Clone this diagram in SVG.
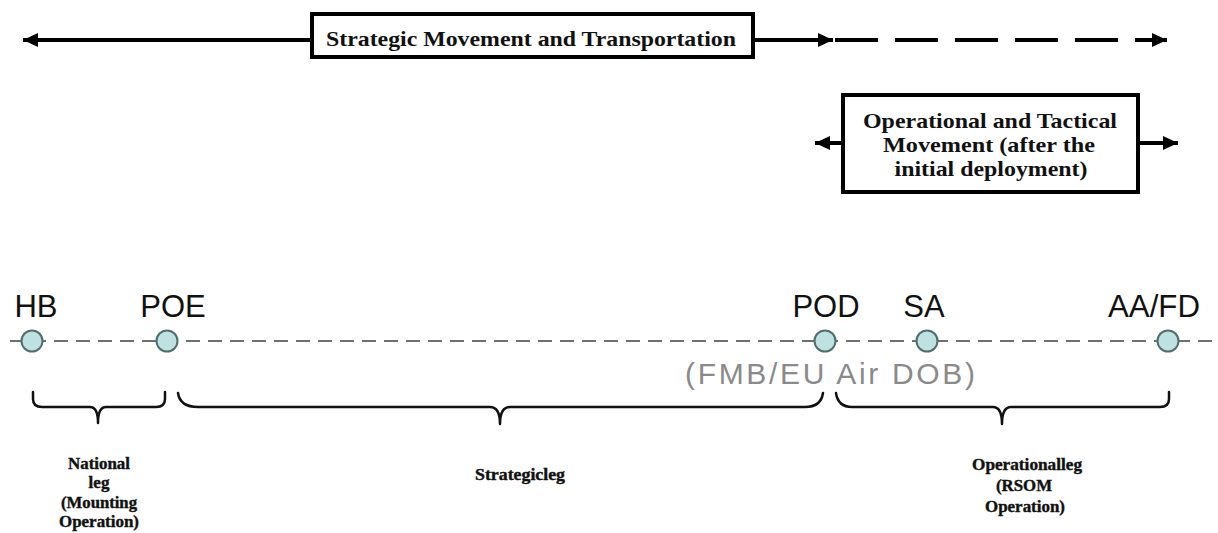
<svg xmlns="http://www.w3.org/2000/svg" width="1218" height="533" viewBox="0 0 1218 533">
  <style>
    .box { fill: #ffffff; stroke: #000; stroke-width: 4; }
    .arrow { fill: none; stroke: #000; stroke-width: 4; }
    .title { font-family: "Liberation Serif", "Times New Roman", serif; font-weight: bold; fill: #111; text-anchor: middle; }
    .axis { fill: none; stroke: #707070; stroke-width: 2.2; stroke-dasharray: 14 8; }
    .pt { fill: #bfe1e1; stroke: #4f6e6e; stroke-width: 2; }
    .lbl { font-family: "Liberation Sans", Arial, sans-serif; font-size: 31px; fill: #111; text-anchor: middle; }
    .grey { font-family: "Liberation Sans", Arial, sans-serif; font-size: 30px; fill: #8a8a8a; text-anchor: middle; }
    .brace { fill: none; stroke: #111; stroke-width: 2.5; stroke-linecap: round; stroke-linejoin: round; }
    .leg { font-family: "Liberation Serif", "Times New Roman", serif; font-weight: bold; font-size: 17px; fill: #111; stroke: #111; stroke-width: 0.4; text-anchor: middle; }
  </style>
  <defs>
    <marker id="ah" markerUnits="userSpaceOnUse" markerWidth="16" markerHeight="14" refX="15" refY="7" orient="auto-start-reverse">
      <path d="M0,0 L15,7 L0,14 z" fill="#000"/>
    </marker>
  </defs>

  <g id="connectors">
    <line class="arrow" x1="312" y1="40" x2="23" y2="40" marker-end="url(#ah)"/>
    <line class="arrow" x1="753" y1="40" x2="833" y2="40" marker-end="url(#ah)"/>
    <line class="arrow" x1="835" y1="40" x2="1167" y2="40" stroke-dasharray="43 17" marker-end="url(#ah)"/>
    <line class="arrow" x1="843" y1="143" x2="815" y2="143" marker-end="url(#ah)"/>
    <line class="arrow" x1="1138" y1="143" x2="1178" y2="143" marker-end="url(#ah)"/>
  </g>

  <g id="strategic-box">
    <rect class="box" x="312" y="14" width="441" height="43"/>
    <text class="title" x="531" y="46" font-size="22" textLength="410" lengthAdjust="spacingAndGlyphs">Strategic Movement and Transportation</text>
  </g>

  <g id="operational-box">
    <rect class="box" x="843" y="95" width="295" height="97"/>
    <text class="title" x="990" y="128" font-size="21" textLength="254" lengthAdjust="spacingAndGlyphs">Operational and Tactical</text>
    <text class="title" x="989" y="152" font-size="21" textLength="212" lengthAdjust="spacingAndGlyphs">Movement (after the</text>
    <text class="title" x="991" y="176" font-size="21" textLength="193" lengthAdjust="spacingAndGlyphs">initial deployment)</text>
  </g>

  <g id="timeline">
    <line class="axis" x1="10" y1="341" x2="1218" y2="341"/>
  </g>

  <g id="node-HB">
    <circle class="pt" cx="32" cy="341" r="10.5"/>
    <text class="lbl" x="36" y="317">HB</text>
  </g>
  <g id="node-POE">
    <circle class="pt" cx="167" cy="341" r="10.5"/>
    <text class="lbl" x="173" y="317">POE</text>
  </g>
  <g id="node-POD">
    <circle class="pt" cx="825" cy="341" r="10.5"/>
    <text class="lbl" x="826" y="317">POD</text>
    <text class="grey" x="830" y="384" textLength="290" lengthAdjust="spacing">(FMB/EU Air DOB)</text>
  </g>
  <g id="node-SA">
    <circle class="pt" cx="927" cy="341" r="10.5"/>
    <text class="lbl" x="924" y="317">SA</text>
  </g>
  <g id="node-AAFD">
    <circle class="pt" cx="1168" cy="341" r="10.5"/>
    <text class="lbl" x="1154" y="317" textLength="92" lengthAdjust="spacingAndGlyphs">AA/FD</text>
  </g>

  <g id="national-leg">
    <path class="brace" d="M33,392 L33,399 Q33,407 42,407 L90,407 Q98,407 98,423 Q98,407 106,407 L156,407 Q165,407 165,399 L165,392"/>
    <text class="leg" x="99" y="469" textLength="62" lengthAdjust="spacingAndGlyphs">National</text>
    <text class="leg" x="99" y="488">leg</text>
    <text class="leg" x="99" y="508" textLength="76" lengthAdjust="spacingAndGlyphs">(Mounting</text>
    <text class="leg" x="99" y="527" textLength="80" lengthAdjust="spacingAndGlyphs">Operation)</text>
  </g>

  <g id="strategic-leg">
    <path class="brace" d="M178,393 Q180,407 198,407 L490,407 Q500,407 500,424 Q500,407 510,407 L805,407 Q821,407 823,393"/>
    <text class="leg" x="520" y="480" textLength="90" lengthAdjust="spacingAndGlyphs">Strategicleg</text>
  </g>

  <g id="operational-leg">
    <path class="brace" d="M836,393 Q838,407 852,407 L993,407 Q1002,407 1002,424 Q1002,407 1011,407 L1160,407 Q1169,407 1169,399 L1169,392"/>
    <text class="leg" x="1027" y="470" textLength="110" lengthAdjust="spacingAndGlyphs">Operationalleg</text>
    <text class="leg" x="1024" y="491" textLength="56" lengthAdjust="spacingAndGlyphs">(RSOM</text>
    <text class="leg" x="1025" y="512" textLength="80" lengthAdjust="spacingAndGlyphs">Operation)</text>
  </g>
</svg>
